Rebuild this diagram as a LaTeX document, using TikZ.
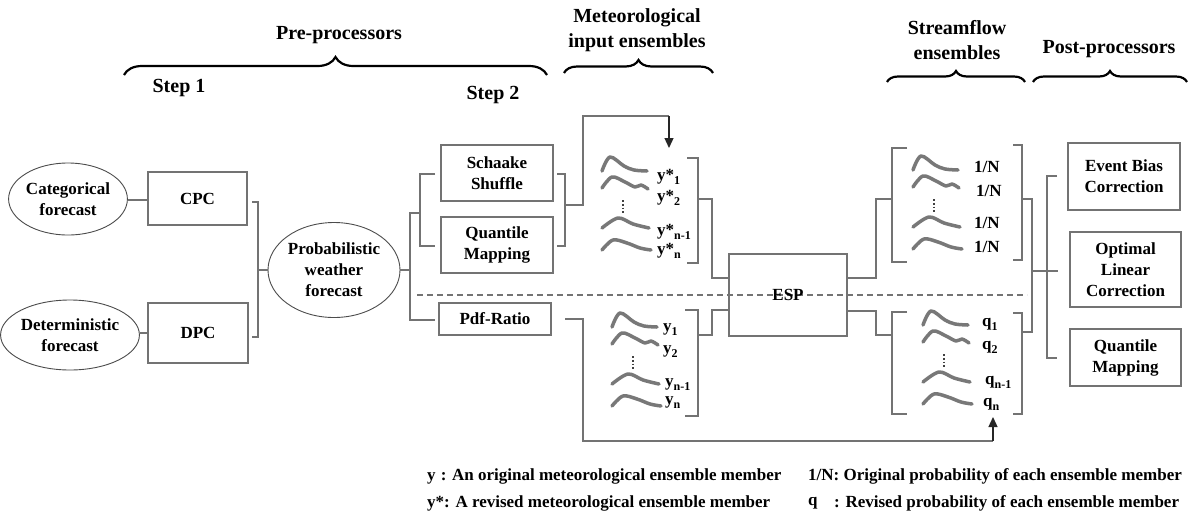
\documentclass[tikz,border=0pt]{standalone}
\usepackage{fontspec}
\usepackage{graphicx}
\setmainfont{Liberation Serif}
\usetikzlibrary{shapes.geometric,arrows.meta,decorations.pathreplacing}
\definecolor{lc}{RGB}{115,115,115}
\definecolor{wc}{RGB}{120,120,120}
\newcommand\lowsub[1]{\raisebox{-4pt}{\fontsize{12}{12}\selectfont #1}}
\newcommand\ensgroup[1]{%
\begin{scope}[shift={#1}]
 \draw[wig] plot[smooth, tension=0.55] coordinates {(0,0) (8,-14) (22,-5) (32,-1) (45,0)};
 \draw[wig] plot[smooth, tension=0.55] coordinates {(0,17) (10,6) (23,11) (33,16) (39,14) (46,18)};
 \draw[wig] plot[smooth, tension=0.55] coordinates {(0,57) (16,47) (31,53) (47,57)};
 \draw[wig] plot[smooth, tension=0.55] coordinates {(0,79) (11,69) (25,72) (38,77) (49,79)};
 \draw[black!75, line width=1.8pt, dotted] (21,29) -- (21,43);
\end{scope}}
\begin{document}
\begin{tikzpicture}[x=1pt,y=-1pt,
  box/.style={draw=lc, line width=1.3pt, rectangle, inner sep=0pt, align=center, font=\fontsize{17}{21}\selectfont\bfseries},
  ell/.style={draw=black!70, line width=0.9pt, ellipse, inner sep=0pt, align=center, font=\fontsize{17}{21}\selectfont\bfseries},
  conn/.style={draw=lc, line width=1.3pt},
  hdr/.style={font=\fontsize{20}{25}\selectfont\bfseries, align=center, inner sep=0pt},
  brc/.style={decorate, decoration={brace, amplitude=#1}, line width=2.2pt, draw=black},
  wig/.style={draw=wc, line width=3.5pt, line cap=round, line join=round},
  lab/.style={font=\fontsize{17}{20}\selectfont\bfseries, anchor=west, inner sep=0pt},
  leg/.style={font=\fontsize{17}{20}\selectfont\bfseries, anchor=west, inner sep=0pt},
  arr/.style={-{Triangle[length=10pt,width=9pt]}, draw=black!85}
]
\useasboundingbox[fill=white] (0,0) rectangle (1194,515);

% headers and braces
\node[hdr] (hpre) at (339,35) {Pre-processors};
\node[hdr] (hs1) at (179,88) {Step 1};
\node[hdr] (hs2) at (493,95) {Step 2};
\node[hdr] (hmet) at (637,30) {Meteorological\\input ensembles};
\node[hdr] (hstr) at (957,40) {Streamflow\\ensembles};
\node[hdr] (hpost) at (1109,49) {Post-processors};
\draw[brc=18pt] (124,75) -- (547,75);
\draw[brc=13pt] (564,73) -- (713,73);
\draw[brc=11pt] (887,82) -- (1025,82);
\draw[brc=11pt] (1033,82) -- (1187,82);

% nodes
\node[ell, minimum width=117pt, minimum height=72pt] (cat) at (68,199) {Categorical\\forecast};
\node[ell, minimum width=120pt, minimum height=70pt] (det) at (70,335) {Deterministic\\forecast};
\node[box, minimum width=99pt, minimum height=53pt] (cpc) at (197.5,198.5) {CPC};
\node[box, minimum width=100pt, minimum height=60pt] (dpc) at (198,333) {DPC};
\node[ell, minimum width=132pt, minimum height=95pt] (prob) at (334,270) {Probabilistic\\weather\\forecast};
\node[box, minimum width=112pt, minimum height=56pt] (sch) at (497,173) {Schaake\\Shuffle};
\node[box, minimum width=112pt, minimum height=56pt] (qm) at (497,245) {Quantile\\Mapping};
\node[box, minimum width=112pt, minimum height=32pt] (pdf) at (495,319) {Pdf-Ratio};
\draw[lc, line width=1.3pt, dash pattern=on 6pt off 4pt] (417,295) -- (1027,295);
\node[box, minimum width=118pt, minimum height=82pt] (esp) at (788,295) {ESP};
\node[box, minimum width=112pt, minimum height=67pt] (ebc) at (1124,176.5) {Event Bias\\Correction};
\node[box, minimum width=111pt, minimum height=75pt] (olc) at (1125.5,269.5) {Optimal\\Linear\\Correction};
\node[box, minimum width=111pt, minimum height=57pt] (qm2) at (1125.5,357.5) {Quantile\\Mapping};

% step 1 connectors
\draw[conn] (cat.east |- 0,200) -- (cpc.west |- 0,200);
\draw[conn] (det.east |- 0,333) -- (dpc.west |- 0,333);
\draw[conn] (252,202) -- (258,202) -- (258,337) -- (252,337);
\draw[conn] (258,270) -- (prob.west);
% step 2 connectors
\draw[conn] (prob.east) -- (410,270);
\draw[conn] (420,213) -- (410,213) -- (410,320) -- (435,320);
\draw[conn] (435,174) -- (420,174) -- (420,246) -- (435,246);
\draw[conn] (557,174) -- (565,174) -- (565,246) -- (557,246);
\coordinate (ystar) at (669,148);
\coordinate (qn) at (993,417);
\draw[conn] (565,205) -- (583,205) -- (583,116) -- (669,116);
\draw[conn, arr] (669,116) -- (ystar);
\draw[conn] (565,319) -- (583,319) -- (583,441) -- (993,441);
\draw[conn, arr] (993,441) -- (qn);

% ensembles
\ensgroup{(602,171)}
\ensgroup{(612,327)}
\ensgroup{(913,170)}
\ensgroup{(923,325)}

% ensemble labels
\node[lab] at (657,177) {y*\lowsub{1}};
\node[lab] at (657,198) {y*\lowsub{2}};
\node[lab] at (657,232) {y*\lowsub{n-1}};
\node[lab] at (657,251) {y*\lowsub{n}};
\node[lab] at (663,330) {y\lowsub{1}};
\node[lab] at (663,352) {y\lowsub{2}};
\node[lab] at (665,385) {y\lowsub{n-1}};
\node[lab] at (665,403) {y\lowsub{n}};
\node[lab] at (974,167) {1/N};
\node[lab] at (976,191) {1/N};
\node[lab] at (974,223) {1/N};
\node[lab] at (974,247) {1/N};
\node[lab] at (982,324) {q\lowsub{1}};
\node[lab] at (982,347) {q\lowsub{2}};
\node[lab] at (985,382) {q\lowsub{n-1}};
\node[lab] at (983,404) {q\lowsub{n}};

% ensemble brackets
\draw[conn] (687,158) -- (698,158) -- (698,263) -- (687,263);
\draw[conn] (685,310) -- (698,310) -- (698,416) -- (685,416);
\draw[conn] (698,199) -- (712,199) -- (712,278) -- (esp.west |- 0,278);
\draw[conn] (698,335) -- (712,335) -- (712,310) -- (esp.west |- 0,310);
\draw[conn] (esp.east |- 0,278) -- (876,278) -- (876,199) -- (892,199);
\draw[conn] (esp.east |- 0,311) -- (876,311) -- (876,335) -- (892,335);
\draw[conn] (907,148) -- (892,148) -- (892,262) -- (907,262);
\draw[conn] (1013,145) -- (1022,145) -- (1022,260) -- (1013,260);
\draw[conn] (907,312) -- (892,312) -- (892,414) -- (907,414);
\draw[conn] (1013,313) -- (1022,313) -- (1022,414) -- (1013,414);
\draw[conn] (1022,199) -- (1032,199) -- (1032,332) -- (1022,332);
\draw[conn] (1032,271) -- (1058,271);
\draw[conn] (1057,176) -- (1047,176) -- (1047,358) -- (1057,358);

% legend
\node[leg] (l1) at (427,476) {y\hspace{0.3em}: An original meteorological ensemble member};
\node[leg] (l2) at (427,503) {y*: A revised meteorological ensemble member};
\node[leg] (l3) at (808,476) {1/N: Original probability of each ensemble member};
\node[leg] (l4) at (808,503) {q};
\node[leg] (l5) at (834,503) {: Revised probability of each ensemble member};
\end{tikzpicture}
\end{document}
